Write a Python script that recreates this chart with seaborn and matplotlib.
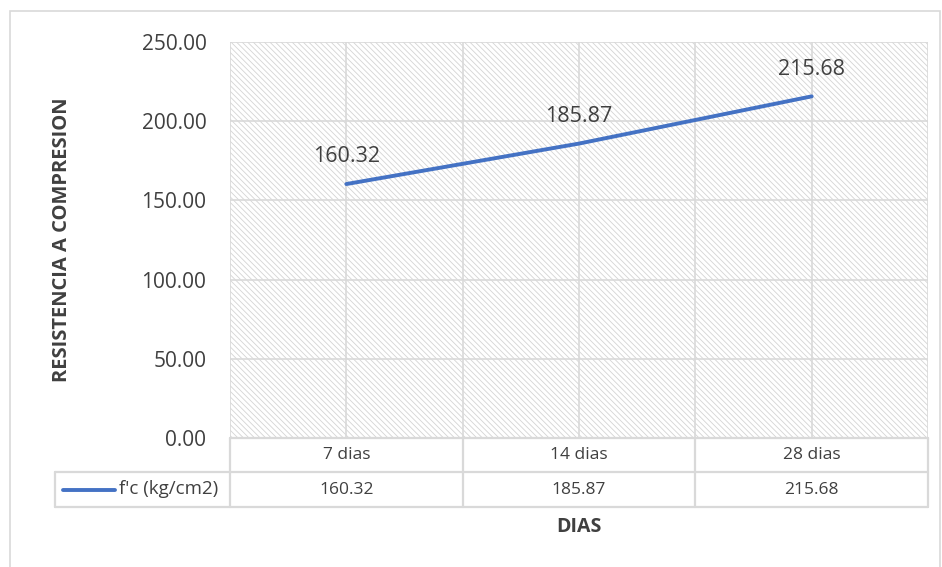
import matplotlib
matplotlib.use("Agg")
import matplotlib.pyplot as plt
import seaborn as sns
import pandas as pd
from matplotlib.patches import Rectangle

# data
dias = ["7 dias", "14 dias", "28 dias"]
fc = [160.32, 185.87, 215.68]
serie = "f'c (kg/cm2)"
y_ticks = [0, 50, 100, 150, 200, 250]

sns.set_theme(style="white")
plt.rcParams['font.family'] = ['Open Sans', 'DejaVu Sans']
plt.rcParams['hatch.linewidth'] = 0.6
plt.rcParams['hatch.color'] = '#d4d4d4'

TXT = '#404040'
GRID = '#d9d9d9'
BLUE = '#4472C4'

df = pd.DataFrame({'Dias': dias, 'fc': fc})
df['pos'] = range(len(dias))

W, H = 942, 567
fig = plt.figure(figsize=(W / 100, H / 100), dpi=100)
AX_L, AX_R, AX_T, AX_B = 230, 928, 42, 438
ax = fig.add_axes([AX_L / W, 1 - AX_B / H, (AX_R - AX_L) / W, (AX_B - AX_T) / H])

# hatched plot area
ax.patch.set_facecolor('white')
ax.patch.set_hatch('\\' * 6)
ax.patch.set_edgecolor('#d4d4d4')
ax.patch.set_linewidth(0)

sns.lineplot(data=df, x='pos', y='fc', ax=ax, color=BLUE, linewidth=2.8,
             legend=False)

ax.set_xlim(-0.5, len(dias) - 0.5)
ax.set_ylim(0, 250)
ax.set_yticks(y_ticks)
ax.set_yticklabels([f'{v:.2f}' for v in y_ticks], fontsize=15, color=TXT)
ax.set_xticks([i * 0.5 - 0.5 for i in range(2 * len(dias) + 1)])
ax.set_xticklabels([])
ax.tick_params(axis='both', length=0, pad=17)
ax.grid(True, color=GRID, linewidth=1.2)
ax.set_axisbelow(True)
for s in ax.spines.values():
    s.set_visible(False)
ax.set_xlabel('')
ax.set_ylabel('')

# data labels
for i, v in enumerate(fc):
    ax.annotate(f'{v:.2f}', (i, v), xytext=(0, 12), textcoords='offset points',
                ha='center', va='bottom', fontsize=15.5, color=TXT)


# data table under the chart (pixel -> figure coords helpers)
def fx(px):
    return px / W


def fy(py):
    return 1 - py / H


col_edges = [AX_L + (AX_R - AX_L) * k / len(dias) for k in range(len(dias) + 1)]
r0, r1, r2 = 438, 472, 507
lbl_left = 55
lk = dict(color=GRID, linewidth=1.6, transform=fig.transFigure, clip_on=False)
# horizontal lines
fig.add_artist(plt.Line2D([fx(AX_L), fx(AX_R)], [fy(r0), fy(r0)], **lk))
fig.add_artist(plt.Line2D([fx(lbl_left), fx(AX_R)], [fy(r1), fy(r1)], **lk))
fig.add_artist(plt.Line2D([fx(lbl_left), fx(AX_R)], [fy(r2), fy(r2)], **lk))
# vertical lines
fig.add_artist(plt.Line2D([fx(lbl_left), fx(lbl_left)], [fy(r1), fy(r2)], **lk))
for xe in col_edges:
    fig.add_artist(plt.Line2D([fx(xe), fx(xe)], [fy(r0), fy(r2)], **lk))

for k, (d, v) in enumerate(zip(dias, fc)):
    xc = (col_edges[k] + col_edges[k + 1]) / 2
    fig.text(fx(xc), fy((r0 + r1) / 2), d, ha='center', va='center',
             fontsize=12.5, color=TXT)
    fig.text(fx(xc), fy((r1 + r2) / 2), f'{v:.2f}', ha='center', va='center',
             fontsize=12.5, color=TXT)

# legend key inside the row label cell
ym = fy((r1 + r2) / 2)
fig.add_artist(plt.Line2D([fx(63), fx(115)], [ym, ym], color=BLUE,
                          linewidth=2.8, solid_capstyle='round',
                          transform=fig.transFigure))
fig.text(fx(119), ym, serie, ha='left', va='center', fontsize=13.5, color=TXT)

# axis titles
fig.text(fx(579), fy(527), 'DIAS', ha='center', va='center',
         fontsize=14, fontweight='bold', color=TXT)
fig.text(fx(62), fy(240), 'RESISTENCIA A COMPRESION', ha='center',
         va='center', rotation=90, fontsize=14.5, fontweight='bold', color=TXT)

# outer chart border
fig.add_artist(Rectangle((fx(10), -0.01), fx(930), fy(11) + 0.01,
                         transform=fig.transFigure, fill=False,
                         edgecolor=GRID, linewidth=1.2))

fig.savefig('out.png', dpi=100)
